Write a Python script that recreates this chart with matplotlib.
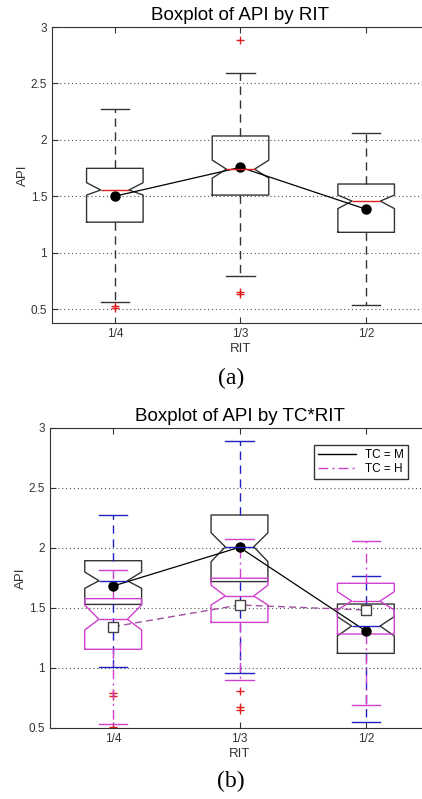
import matplotlib
matplotlib.use("Agg")
import matplotlib.pyplot as plt
from matplotlib.lines import Line2D

plt.rcParams['font.family'] = ['Liberation Sans', 'DejaVu Sans']

rit = ['1/4', '1/3', '1/2']
pos = [1, 2, 3]

# (a) API by RIT
a_q1 = [1.27, 1.51, 1.18]
a_med = [1.555, 1.74, 1.457]
a_q3 = [1.747, 2.034, 1.608]
a_lo = [0.559, 0.795, 0.533]
a_hi = [2.273, 2.595, 2.057]
a_cilo = [1.51, 1.66, 1.39]
a_cihi = [1.62, 1.82, 1.51]
a_fliers = [[0.527, 0.505], [2.885, 0.653, 0.635], []]
a_mean = [1.50, 1.756, 1.384]

# (b) API by TC*RIT, TC = M
m_q1 = [1.53, 1.72, 1.122]
m_med = [1.727, 2.01, 1.35]
m_q3 = [1.894, 2.275, 1.533]
m_lo = [1.01, 0.956, 0.547]
m_hi = [2.275, 2.89, 1.767]
m_cilo = [1.664, 1.886, 1.267]
m_cihi = [1.80, 2.127, 1.428]
m_fliers = [[0.789, 0.769, 0.51], [0.808, 0.678, 0.65], []]
m_mean = [1.683, 2.006, 1.308]

# TC = H
h_q1 = [1.156, 1.38, 1.283]
h_med = [1.406, 1.60, 1.558]
h_q3 = [1.578, 1.748, 1.706]
h_lo = [0.533, 0.90, 0.69]
h_hi = [1.817, 2.075, 2.06]
h_cilo = [1.317, 1.525, 1.483]
h_cihi = [1.525, 1.69, 1.636]
h_fliers = [[], [], []]
h_mean = [1.344, 1.525, 1.483]


def stats(q1, med, q3, lo, hi, cilo, cihi, fliers):
    out = []
    for i in range(len(q1)):
        out.append(dict(q1=q1[i], med=med[i], q3=q3[i], whislo=lo[i], whishi=hi[i],
                        cilo=cilo[i], cihi=cihi[i], fliers=fliers[i]))
    return out


def style_axes(ax, ylim):
    ax.set_xlim(0.5, 3.5)
    ax.set_ylim(*ylim)
    ax.set_yticks([0.5, 1, 1.5, 2, 2.5, 3])
    ax.set_yticklabels(['0.5', '1', '1.5', '2', '2.5', '3'])
    ax.set_xticks(pos)
    ax.set_xticklabels(rit)
    ax.tick_params(direction='in', top=True, length=4, labelsize=8.5, colors='#333333')
    for s in ax.spines.values():
        s.set_color('#333333')
    ax.yaxis.grid(True, linestyle=(0, (1, 2.5)), color='#555555', linewidth=0.8)
    ax.set_axisbelow(True)
    ax.set_xlabel('RIT', fontsize=9.5, color='#333333', labelpad=2)
    ax.set_ylabel('API', fontsize=9.5, color='#333333', labelpad=1)


fig = plt.figure(figsize=(4.22, 7.99), dpi=100)
dash = (0, (6, 4))
flier = dict(marker='+', markeredgecolor='#e02020', markersize=6, linestyle='none')

ax1 = fig.add_axes([52 / 422, 1 - 323 / 799, 377 / 422, 296 / 799])
ax1.bxp(stats(a_q1, a_med, a_q3, a_lo, a_hi, a_cilo, a_cihi, a_fliers), positions=pos,
        widths=0.45, shownotches=True, showfliers=True,
        boxprops=dict(color='#333333', linewidth=1),
        whiskerprops=dict(color='#333333', linestyle=dash, linewidth=1),
        capprops=dict(color='#333333', linewidth=1),
        medianprops=dict(color='#e02020', linewidth=1),
        flierprops=flier)
ax1.plot(pos, a_mean, color='black', linewidth=0.9, marker='o', markersize=6.5)
style_axes(ax1, (0.376, 3))
ax1.set_title('Boxplot of API by RIT', fontsize=13.5, pad=5)

ax2 = fig.add_axes([50 / 422, 1 - 728 / 799, 379 / 422, 300 / 799])
ax2.bxp(stats(m_q1, m_med, m_q3, m_lo, m_hi, m_cilo, m_cihi, m_fliers), positions=pos,
        widths=0.45, shownotches=True, showfliers=True,
        boxprops=dict(color='#333333', linewidth=1),
        whiskerprops=dict(color='#2020c0', linestyle=dash, linewidth=1),
        capprops=dict(color='#2020c0', linewidth=1),
        medianprops=dict(color='#2020c0', linewidth=1),
        flierprops=flier)
ax2.bxp(stats(h_q1, h_med, h_q3, h_lo, h_hi, h_cilo, h_cihi, h_fliers), positions=pos,
        widths=0.45, shownotches=True, showfliers=True,
        boxprops=dict(color='#d040d0', linewidth=1),
        whiskerprops=dict(color='#d040d0', linestyle=(0, (7, 3, 1.5, 3)), linewidth=1),
        capprops=dict(color='#d040d0', linewidth=1),
        medianprops=dict(color='#d040d0', linewidth=1),
        flierprops=flier)
ax2.plot(pos, m_mean, color='black', linewidth=0.9, marker='o', markersize=6.5)
ax2.plot(pos, h_mean, color='#a050a0', linewidth=1, linestyle=(0, (5, 3)),
         marker='s', markersize=6.5, markerfacecolor='white', markeredgecolor='#444444')
style_axes(ax2, (0.5, 3))
ax2.set_title('Boxplot of API by TC*RIT', fontsize=13.5, pad=5)

handles = [Line2D([], [], color='black', linewidth=1),
           Line2D([], [], color='#d040d0', linewidth=1, linestyle=(0, (7, 3, 1.5, 3)))]
leg = ax2.legend(handles, ['TC = M', 'TC = H'], loc='upper right',
                 bbox_to_anchor=(408 / 422, 1 - 445 / 799), bbox_transform=fig.transFigure,
                 borderaxespad=0, fontsize=8.5, handlelength=3.2, fancybox=False,
                 framealpha=1, edgecolor='#333333', borderpad=0.35, labelspacing=0.15)
leg.get_frame().set_linewidth(1)

fig.text(231 / 422, 1 - 378 / 799, '(a)', family=['Liberation Serif'], fontsize=17,
         ha='center', va='center')
fig.text(231 / 422, 1 - 781 / 799, '(b)', family=['Liberation Serif'], fontsize=17,
         ha='center', va='center')

fig.savefig('out.png', dpi=100)
